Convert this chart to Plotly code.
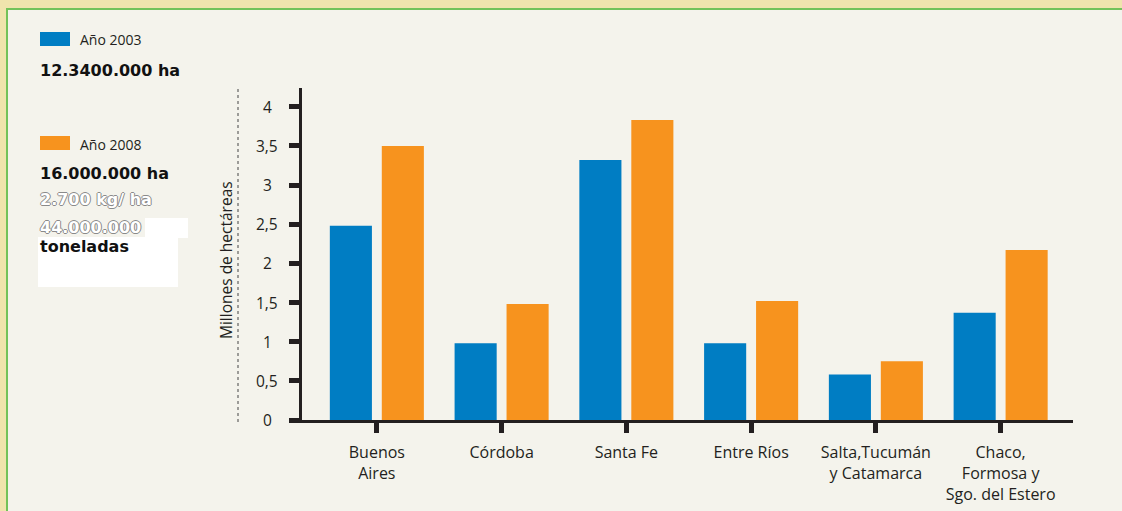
import plotly.graph_objects as go

# Data (millones de hectáreas)
provincias = ["Buenos<br>Aires", "Córdoba", "Santa Fe", "Entre Ríos",
              "Salta,Tucumán<br>y Catamarca", "Chaco,<br>Formosa y<br>Sgo. del Estero"]
anio_2003 = [2.48, 0.98, 3.32, 0.98, 0.58, 1.37]
anio_2008 = [3.50, 1.48, 3.83, 1.52, 0.75, 2.17]

y_ticks = [0, 0.5, 1, 1.5, 2, 2.5, 3, 3.5, 4]

BLUE = "#007dc3"
ORANGE = "#f7931e"
INK = "#231f20"
PANEL = "#f4f3ec"
PARCHMENT = "#efe4ad"
GREEN = "#72c25a"
SANS = "Open Sans"
HEAVY = "DejaVu Sans"

# plot area in pixels (to place shapes/annotations outside the axes)
L, R, T, B = 302, 1073, 88, 420


def fx(px):
    return (px - L) / (R - L)


def fy(py):
    return (B - py) / (B - T)


fig = go.Figure()

fig.add_trace(go.Bar(x=list(range(len(provincias))), y=anio_2003, name="Año 2003",
                     marker=dict(color=BLUE, line=dict(width=0))))
fig.add_trace(go.Bar(x=list(range(len(provincias))), y=anio_2008, name="Año 2008",
                     marker=dict(color=ORANGE, line=dict(width=0))))

shapes = [
    # background panel with green border
    dict(type="rect", xref="paper", yref="paper", x0=fx(7), x1=fx(1130), y0=fy(520), y1=fy(9),
         fillcolor=PANEL, line=dict(color=GREEN, width=2), layer="below"),
    # dotted guide line next to the y tick labels
    dict(type="line", xref="paper", yref="paper", x0=fx(238), x1=fx(238), y0=fy(422), y1=fy(87),
         line=dict(color="#444444", width=1, dash="dot"), layer="below"),
    # legend swatches
    dict(type="rect", xref="paper", yref="paper", x0=fx(40), x1=fx(70), y0=fy(46), y1=fy(32),
         fillcolor=BLUE, line=dict(width=0)),
    dict(type="rect", xref="paper", yref="paper", x0=fx(40), x1=fx(70), y0=fy(150), y1=fy(136),
         fillcolor=ORANGE, line=dict(width=0)),
    # white patches over the side text
    dict(type="rect", xref="paper", yref="paper", x0=fx(145), x1=fx(188), y0=fy(238), y1=fy(218),
         fillcolor="white", line=dict(width=0), layer="below"),
    dict(type="rect", xref="paper", yref="paper", x0=fx(38), x1=fx(178), y0=fy(287), y1=fy(237),
         fillcolor="white", line=dict(width=0), layer="below"),
]

outline = "-1px 0 #8a8a8a, 1px 0 #8a8a8a, 0 -1px #8a8a8a, 0 1px #8a8a8a"

side_text = [
    (78, 40, "Año 2003", dict(size=14, color=INK, family=SANS)),
    (38, 70, "<b>12.3400.000 ha</b>", dict(size=16, color="#111111", family=HEAVY)),
    (78, 144, "Año 2008", dict(size=14, color=INK, family=SANS)),
    (38, 173, "<b>16.000.000 ha</b>", dict(size=16, color="#111111", family=HEAVY)),
    (38, 199, "<b>2.700 kg/ ha</b>", dict(size=16, color="#ffffff", family=HEAVY, shadow=outline)),
    (38, 227, "<b>44.000.000</b>", dict(size=16, color="#ffffff", family=HEAVY, shadow=outline)),
    (38, 246, "<b>toneladas</b>", dict(size=16, color="#111111", family=HEAVY)),
]

annotations = []
for px, py, txt, font in side_text:
    annotations.append(dict(xref="paper", yref="paper", x=fx(px), y=fy(py), text=txt,
                            showarrow=False, xanchor="left", yanchor="middle", font=font))

# y tick labels are centred in the reference, so draw them as annotations on the y axis
for v in y_ticks:
    annotations.append(dict(xref="paper", yref="y", x=fx(267), y=v,
                            text=f"{v:g}".replace(".", ","), showarrow=False,
                            xanchor="center", yanchor="middle",
                            font=dict(size=15.5, color=INK, family=SANS)))

annotations.append(dict(xref="paper", yref="paper", x=fx(226), y=fy(260),
                        text="Millones de hectáreas", textangle=-90, showarrow=False,
                        xanchor="center", yanchor="middle",
                        font=dict(size=15.5, color=INK, family=SANS)))

fig.update_layout(
    width=1122, height=511,
    margin=dict(l=L, r=1122 - R, t=T, b=511 - B),
    paper_bgcolor=PARCHMENT,
    plot_bgcolor="rgba(0,0,0,0)",
    showlegend=False,
    barmode="group",
    bargap=0.167,
    bargroupgap=0.19,
    separators=",.",
    font=dict(family=SANS, size=15, color=INK),
    shapes=shapes,
    annotations=annotations,
    xaxis=dict(
        range=[-0.6, 5.58],
        tickmode="array",
        tickvals=list(range(len(provincias))),
        ticktext=provincias,
        ticks="outside", ticklen=10, tickwidth=5, tickcolor=INK,
        showline=True, linewidth=3, linecolor=INK,
        showgrid=False, zeroline=False,
        ticklabelstandoff=6,
        automargin=False,
        tickfont=dict(size=16, color=INK, family=SANS),
    ),
    yaxis=dict(
        range=[0, 4.24],
        tickmode="array",
        tickvals=y_ticks,
        showticklabels=False,
        ticks="outside", ticklen=10, tickwidth=5, tickcolor=INK,
        showline=True, linewidth=3, linecolor=INK,
        showgrid=False, zeroline=False,
        automargin=False,
    ),
)

# drop the default 8px body margin so the figure sits at the window origin
fig.write_html("out.html", config={"displayModeBar": False},
               post_script="document.body.style.margin='0';")
